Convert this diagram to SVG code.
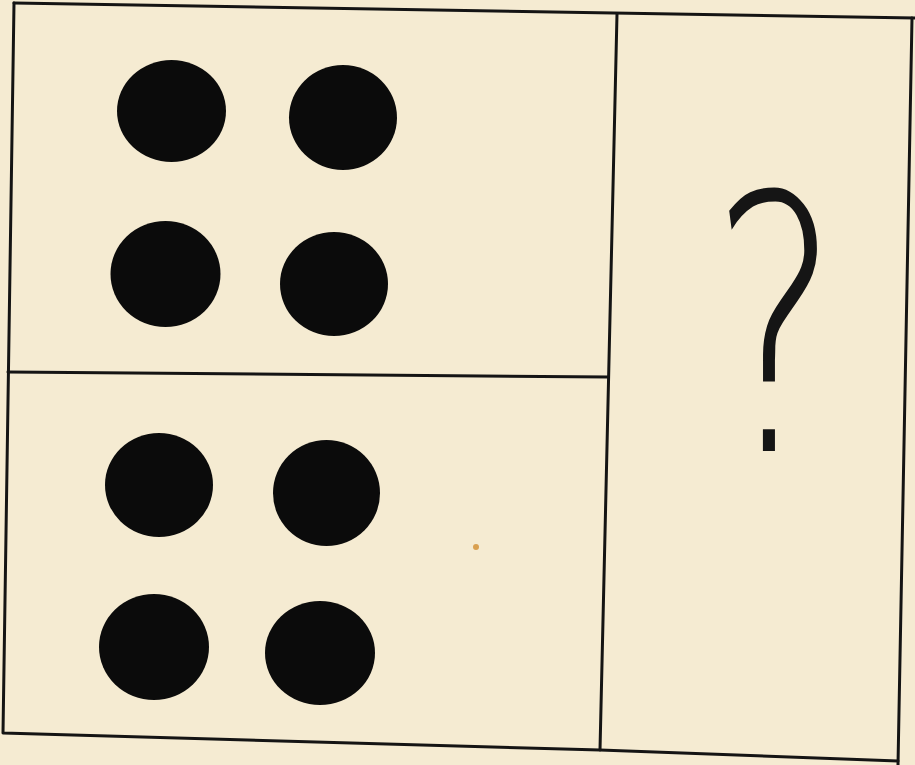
<svg xmlns="http://www.w3.org/2000/svg" width="915" height="765" viewBox="0 0 915 765">
<style>
.ln{stroke:#141414;stroke-width:3;fill:none;stroke-linecap:round;stroke-linejoin:round}
.dot{fill:#0b0b0b}
.q{font-family:"DejaVu Sans","Liberation Sans",sans-serif;font-weight:200;fill:#151515}
</style>
<rect x="0" y="0" width="915" height="765" fill="#f5ebd2"/>
<g id="frame">
<path class="ln" d="M14,3 L915,18"/>
<path class="ln" d="M14,3 L3,733 L600,750 L898,761"/>
<path class="ln" d="M912,18 L898,765"/>
<path class="ln" d="M617,14 L600,750"/>
<path class="ln" d="M8,372 L608,377"/>
</g>
<g id="dots">
<ellipse class="dot" cx="171.5" cy="111" rx="54.5" ry="51"/>
<ellipse class="dot" cx="343" cy="117.5" rx="54" ry="52.5"/>
<ellipse class="dot" cx="165.5" cy="274" rx="55" ry="53"/>
<ellipse class="dot" cx="334" cy="284" rx="54" ry="52"/>
<ellipse class="dot" cx="159" cy="485" rx="54" ry="52"/>
<ellipse class="dot" cx="326.5" cy="493" rx="53.5" ry="53"/>
<ellipse class="dot" cx="154" cy="647" rx="55" ry="53"/>
<ellipse class="dot" cx="320" cy="653" rx="55" ry="52"/>
</g>
<circle cx="476" cy="547" r="3" fill="#d9a050"/>
<g id="question">
<text class="q" x="0" y="0" font-size="355" transform="translate(775,451) scale(0.68,1)" text-anchor="middle">?</text>
</g>
</svg>
